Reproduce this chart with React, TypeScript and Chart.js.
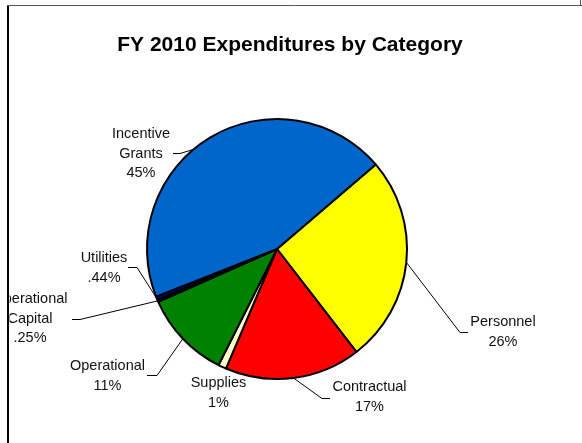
import React, { useEffect, useRef } from "react";
import { Chart, registerables } from "chart.js";

Chart.register(...registerables);

const titleText = "FY 2010 Expenditures by Category";
const categories = [
  "Personnel",
  "Contractual",
  "Supplies",
  "Operational",
  "Operational Capital",
  "Utilities",
  "Incentive Grants",
];
const values = [26, 17, 1, 11, 0.25, 0.44, 45];
const percentLabels = ["26%", "17%", "1%", "11%", ".25%", ".44%", "45%"];
const nameLines = [
  ["Personnel"],
  ["Contractual"],
  ["Supplies"],
  ["Operational"],
  ["Operational", "Capital"],
  ["Utilities"],
  ["Incentive", "Grants"],
];
const sliceColors = ["#FFFF00", "#FF0000", "#FFFFCC", "#008000", "#800080", "#000080", "#0066CC"];

// label layout (positions only)
type Lay = { x: number; y: number; elbow?: [number, number]; end?: [number, number]; shift?: number };
const labelLayout: Lay[] = [
  { x: 503, y: 322, elbow: [460, 332], end: [468, 332] },
  { x: 369.5, y: 387, elbow: [322, 398], end: [330, 398] },
  { x: 218.5, y: 383 },
  { x: 107.5, y: 366, elbow: [157, 375], end: [147, 375] },
  { x: 30, y: 299, elbow: [80, 319], end: [72, 319] },
  { x: 104, y: 258, elbow: [137, 267], end: [128, 267] },
  { x: 141, y: 134, elbow: [180, 153], end: [173, 153], shift: -9 },
];

const FONT = "Arial, 'Liberation Sans', sans-serif";

const decorPlugin = {
  id: "decor",
  beforeDraw(chart: any) {
    const ctx = chart.ctx;
    ctx.save();
    ctx.fillStyle = "#ffffff";
    ctx.fillRect(0, 0, chart.width, chart.height);
    ctx.strokeStyle = "#555";
    ctx.lineWidth = 1;
    ctx.beginPath();
    ctx.moveTo(7, 5.5);
    ctx.lineTo(582, 5.5);
    ctx.moveTo(580.5, 0);
    ctx.lineTo(580.5, 5.5);
    ctx.stroke();
    ctx.strokeStyle = "#000";
    ctx.lineWidth = 2;
    ctx.beginPath();
    ctx.moveTo(8, 6);
    ctx.lineTo(8, 443);
    ctx.stroke();
    ctx.restore();
  },
  afterDraw(chart: any) {
    const ctx = chart.ctx;
    ctx.save();
    ctx.fillStyle = "#000";
    ctx.font = `bold 21px ${FONT}`;
    ctx.textAlign = "center";
    ctx.textBaseline = "alphabetic";
    ctx.fillText(titleText, 290, 51);

    ctx.beginPath();
    ctx.rect(9.5, 0, chart.width, chart.height);
    ctx.clip();

    const meta = chart.getDatasetMeta(0);
    meta.data.forEach((arc: any, i: number) => {
      const p = arc.getProps(["x", "y", "startAngle", "endAngle", "outerRadius"], true);
      const L = labelLayout[i];
      const mid = (p.startAngle + p.endAngle) / 2 + ((L.shift || 0) * Math.PI) / 180;
      const ax = p.x + Math.cos(mid) * p.outerRadius;
      const ay = p.y + Math.sin(mid) * p.outerRadius;
      if (L.elbow && L.end) {
        ctx.strokeStyle = "#000";
        ctx.lineWidth = 1;
        ctx.beginPath();
        ctx.moveTo(ax, ay);
        ctx.lineTo(L.elbow[0], L.elbow[1] + 0.5);
        ctx.lineTo(L.end[0], L.end[1] + 0.5);
        ctx.stroke();
      }
      ctx.fillStyle = "#111";
      ctx.font = `14.5px ${FONT}`;
      ctx.textAlign = "center";
      ctx.textBaseline = "middle";
      const lines = [...nameLines[i], percentLabels[i]];
      lines.forEach((t, k) => ctx.fillText(t, L.x, L.y + k * 19.5));
    });
    ctx.restore();
  },
};

export default function App() {
  const ref = useRef<HTMLCanvasElement | null>(null);
  useEffect(() => {
    if (!ref.current) return;
    const chart = new Chart(ref.current, {
      type: "pie",
      data: {
        labels: categories,
        datasets: [
          {
            data: values,
            backgroundColor: sliceColors,
            borderColor: "#000",
            borderWidth: 2,
            radius: 130,
          } as any,
        ],
      },
      options: {
        animation: false,
        responsive: false,
        rotation: 49.4,
        layout: { padding: { left: 0, right: 28, top: 55, bottom: 0 } },
        plugins: {
          legend: { display: false },
          title: { display: false },
          tooltip: { enabled: false },
        },
        events: [],
      },
      plugins: [decorPlugin],
    });
    return () => chart.destroy();
  }, []);
  return (
    <div style={{ position: "fixed", left: 0, top: 0, width: 582, height: 443, background: "#fff" }}>
      <canvas ref={ref} width={582} height={443} style={{ display: "block" }} />
    </div>
  );
}
